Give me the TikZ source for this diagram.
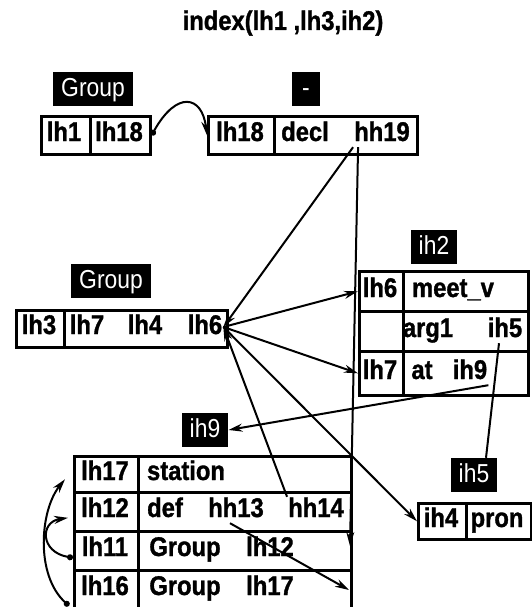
\documentclass[tikz,border=0pt]{standalone}
\usepackage{fontspec}
\newfontfamily\diafont[FakeStretch=0.88,BoldFeatures={FakeBold=1.2}]{Liberation Sans}
\usetikzlibrary{arrows.meta}
\begin{document}
\begin{tikzpicture}[x=1pt,y=-1pt,
  cell/.style={draw,line width=2.6pt,inner sep=0pt,anchor=north west},
  txt/.style={font=\diafont\fontsize{27}{30}\selectfont\bfseries,inner sep=1pt,text height=19pt,text depth=5pt},
  lab/.style={fill=black,text=white,font=\diafont\fontsize{26}{30}\selectfont,inner xsep=8pt,inner ysep=5pt,text height=19pt,text depth=5pt},
  link/.style={line width=2pt,-{Stealth[length=14pt,width=8pt]}},
  dotlink/.style={line width=2pt,{Circle[length=6pt]}-{Stealth[length=14pt,width=8pt]}},
  wire/.style={line width=2pt}]
\useasboundingbox (0,0) rectangle (532,607);

\node[txt] (title) at (283,23) {index(lh1 ,lh3,ih2)};

\node[lab] (l-group1) at (93,89) {Group};
\node[lab,minimum width=28pt] (l-dash) at (306,89) {-};
\node[lab] (l-group2) at (111,281) {Group};
\node[lab] (l-ih2) at (434,247) {ih2};
\node[lab] (l-ih9) at (205,430) {ih9};
\node[lab] (l-ih5) at (474,475) {ih5};

\node[cell,minimum width=49pt,minimum height=38pt] (c-lh1) at (40,115) {};
\node[cell,minimum width=60pt,minimum height=38pt] (c-lh18a) at (89,115) {};
\node[cell,minimum width=66pt,minimum height=38pt] (c-lh18b) at (207,115) {};
\node[cell,minimum width=143pt,minimum height=38pt] (c-decl) at (273,115) {};
\node[txt] (t-lh1) at (64,134) {lh1};
\node[txt] (t-lh18a) at (119,134) {lh18};
\node[txt] (t-lh18b) at (240,134) {lh18};
\node[txt] (t-decl) at (305,134) {decl};
\node[txt] (t-hh19) at (382,134) {hh19};

\node[cell,minimum width=48pt,minimum height=37pt] (c-lh3) at (15,309) {};
\node[cell,minimum width=163pt,minimum height=37pt] (c-grp) at (63,309) {};
\node[txt] (t-lh3) at (39,327) {lh3};
\node[txt] (t-lh7) at (87,327) {lh7};
\node[txt] (t-lh4) at (145,327) {lh4};
\node[txt] (t-lh6) at (205,327) {lh6};

\node[cell,minimum width=44pt,minimum height=40pt] (c-lh6b) at (358,270) {};
\node[cell,minimum width=125pt,minimum height=40pt] (c-meet) at (402,270) {};
\node[cell,minimum width=44pt,minimum height=40pt] (c-blank) at (358,310) {};
\node[cell,minimum width=125pt,minimum height=40pt] (c-arg) at (402,310) {};
\node[cell,minimum width=44pt,minimum height=44pt] (c-lh7b) at (358,350) {};
\node[cell,minimum width=125pt,minimum height=44pt] (c-at) at (402,350) {};
\node[txt] (t-lh6b) at (380,290) {lh6};
\node[txt] (t-meet) at (453,290) {meet\_v};
\node[txt] (t-arg) at (428,330) {arg1};
\node[txt] (t-ih5) at (505,330) {ih5};
\node[txt] (t-lh7b) at (380,372) {lh7};
\node[txt] (t-at) at (422,372) {at};
\node[txt] (t-ih9) at (470,372) {ih9};

\node[cell,minimum width=48pt,minimum height=36pt] (c-ih4) at (417,502) {};
\node[cell,minimum width=65pt,minimum height=36pt] (c-pron) at (465,502) {};
\node[txt] (t-ih4) at (441,520) {ih4};
\node[txt] (t-pron) at (497,520) {pron};

\node[cell,minimum width=64pt,minimum height=36pt] (c-lh17) at (73,455) {};
\node[cell,minimum width=213pt,minimum height=36pt] (c-station) at (137,455) {};
\node[cell,minimum width=64pt,minimum height=39pt] (c-lh12) at (73,491) {};
\node[cell,minimum width=213pt,minimum height=39pt] (c-def) at (137,491) {};
\node[cell,minimum width=64pt,minimum height=39pt] (c-lh11) at (73,530) {};
\node[cell,minimum width=213pt,minimum height=39pt] (c-grp11) at (137,530) {};
\node[cell,minimum width=64pt,minimum height=43pt] (c-lh16) at (73,569) {};
\node[cell,minimum width=213pt,minimum height=43pt] (c-grp16) at (137,569) {};
\node[txt] (t-lh17) at (105,473) {lh17};
\node[txt] (t-station) at (186,473) {station};
\node[txt] (t-lh12) at (105,510) {lh12};
\node[txt] (t-def) at (165,510) {def};
\node[txt] (t-hh13) at (236,510) {hh13};
\node[txt] (t-hh14) at (316,510) {hh14};
\node[txt] (t-lh11) at (105,549) {lh11};
\node[txt] (t-grp11) at (185,549) {Group};
\node[txt] (t-lh12b) at (270,549) {lh12};
\node[txt] (t-lh16) at (105,588) {lh16};
\node[txt] (t-grp16) at (185,588) {Group};
\node[txt] (t-lh17b) at (270,588) {lh17};

\coordinate (e-hh19) at (350,546);
\coordinate (e-hh13) at (349,590);

\draw[dotlink] (c-lh18a.east) .. controls +(25,-45) and +(-5,-40) .. (c-lh18b.west);
\draw[link] (t-hh19.south west) -- (t-lh6.east);
\draw[link] ([xshift=5pt]t-hh19.south west) -- (e-hh19);
\draw[link] (t-hh14.north west) -- (t-lh6.east);
\draw[link] (t-lh6.east) -- (c-lh6b.west);
\draw[link] (t-lh6.east) -- (c-lh7b.west);
\draw[link] (t-lh6.east) -- (c-ih4.west);
\draw[link] ([xshift=-6pt]t-hh13.south) -- (e-hh13);
\draw[link] (t-ih9.south east) -- (l-ih9.east);
\draw[wire] ([xshift=-6pt]t-ih5.south) -- ([xshift=12pt]l-ih5.north);
\draw[dotlink] ([yshift=-7pt]c-lh11.west) .. controls (40,552) and (40,522) .. ([xshift=-5pt,yshift=-6pt]c-lh12.west);
\draw[dotlink] ([xshift=-4pt,yshift=-14pt]c-lh16.west) .. controls (35,575) and (40,510) .. ([xshift=-8pt,yshift=-5pt]c-lh17.west);
\end{tikzpicture}
\end{document}
